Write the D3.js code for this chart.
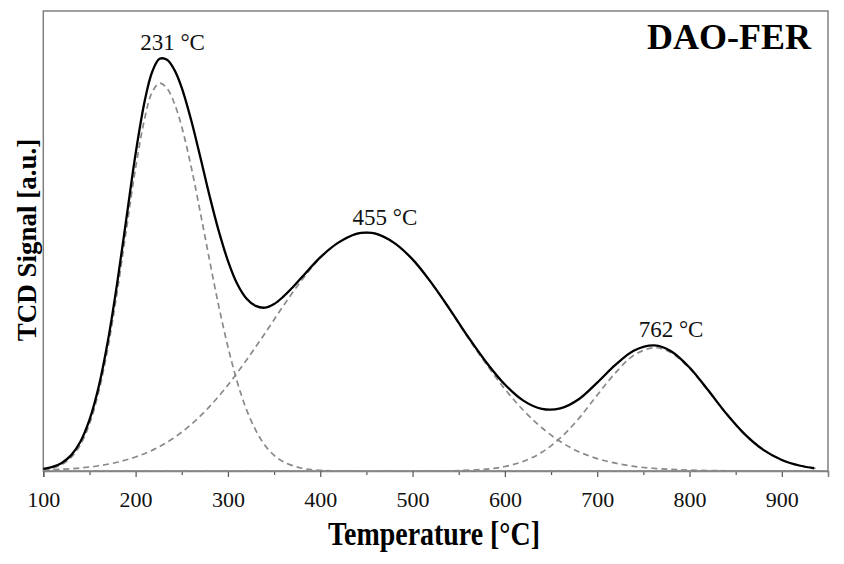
<!DOCTYPE html>
<html>
<head>
<meta charset="utf-8">
<script src="https://cdn.jsdelivr.net/npm/d3@7"></script>
<style>
  html, body { margin: 0; padding: 0; background: #fff; }
  svg { display: block; }
</style>
</head>
<body>
<svg id="chart" width="844" height="564"></svg>
<script>
// ---- data ----
const totalT = [100,110,120,130,140,150,160,170,180,190,200,210,218,226,234,242,250,260,270,280,290,300,310,320,330,340,350,360,370,380,400,420,440,450,460,480,500,520,540,560,580,600,620,640,660,680,700,720,740,762,780,800,820,840,860,880,900,920,935];
const totalV = [0.45,0.9,1.76,3.4,6.3,11.1,18.3,28.3,40.8,54.9,69.0,80.6,86.8,89.6,89.4,87.2,83.3,76.4,68.3,59.9,52.2,45.7,40.7,37.5,35.9,35.5,36.3,37.9,39.9,42.1,46.45,49.7,51.6,51.8,51.6,49.6,46.0,41.0,35.25,29.2,23.6,18.8,15.3,13.5,13.6,15.6,19.2,23.1,26.2,27.3,26.05,22.5,17.6,12.45,7.97,4.6,2.4,1.14,0.6];

const peak1T = [100,110,120,130,140,150,160,170,180,190,200,210,218,226,234,242,250,260,270,280,290,300,310,320,330,340,350,360,380,400,420,460,940];
const peak1V = [0.25,0.62,1.39,2.91,5.66,10.2,17.2,26.8,38.9,52.5,65.9,76.8,82.4,84.3,83.2,79.9,74.8,66.3,56.3,45.9,35.9,27.0,19.4,13.4,8.9,5.6,3.4,2.0,0.6,0.15,0.03,0,0];

const peak2T = [100,120,140,160,180,200,220,240,260,280,300,320,340,360,380,400,420,440,450,460,480,500,520,540,560,580,600,620,640,660,680,700,720,740,760,780,800,840,880,940];
const peak2V = [0.2,0.37,0.66,1.14,1.9,3.05,4.7,7.0,10.1,14.0,18.7,24.1,29.9,35.9,41.5,46.3,49.7,51.6,51.8,51.6,49.6,46.0,41.0,35.2,29.0,23.2,17.8,13.2,9.4,6.4,4.2,2.7,1.7,1.0,0.6,0.35,0.2,0.05,0.01,0];

const peak3T = [100,500,530,550,580,600,620,640,660,680,700,720,740,762,780,800,820,840,860,880,900,920,940];
const peak3V = [0,0,0.02,0.09,0.4,0.97,2.09,4.07,7.18,11.4,16.5,21.4,25.2,26.8,25.7,22.3,17.5,12.4,7.95,4.6,2.4,1.14,0.49];

const xTicks = [100,200,300,400,500,600,700,800,900];
const xMinorTicks = [150,250,350,450,550,650,750,850,950];

const labelTexts = ["231 °C","455 °C","762 °C"];
const labelT = [240,470,780];
const labelV = [91.5,53.5,29.1];

const titleText = "DAO-FER";
const xTitle = "Temperature [°C]";
const yTitle = "TCD Signal [a.u.]";

// ---- layout ----
const svg = d3.select("#chart");
const mLeft = 43.3, mRight = 828, mTop = 11, mBottom = 471;
const x = d3.scaleLinear().domain([100, 950]).range([mLeft, mRight]);
const y = d3.scaleLinear().domain([0, 100]).range([mBottom, mTop]);
const serif = "'Liberation Serif','Times New Roman',Times,serif";
const frameColor = "#808080";

// frame
svg.append("rect").attr("x", mLeft).attr("y", mTop)
  .attr("width", mRight - mLeft).attr("height", mBottom - mTop)
  .attr("fill", "none").attr("stroke", frameColor).attr("stroke-width", 1.5);

// x axis
const gx = svg.append("g").attr("transform", `translate(0,${mBottom})`);
gx.append("g").call(d3.axisBottom(x).tickValues(xMinorTicks).tickSize(4).tickFormat(""))
  .call(g => g.select(".domain").remove());
gx.append("g").call(d3.axisBottom(x).tickValues(xTicks).tickSize(6).tickPadding(14).tickFormat(d3.format("d")))
  .call(g => g.select(".domain").attr("stroke", frameColor).attr("stroke-width", 1.5));
gx.selectAll(".tick line").attr("stroke", "#555").attr("stroke-width", 1.2);
gx.selectAll(".tick text").attr("font-family", serif).attr("font-size", 22).attr("fill", "#111");

// lines
const line = d3.line().x(d => x(d[0])).y(d => y(d[1])).curve(d3.curveCatmullRom.alpha(0.5));
const comps = [[peak1T, peak1V],[peak2T, peak2V],[peak3T, peak3V]];
comps.forEach(([t, v]) => {
  svg.append("path").datum(t.map((d, i) => [d, v[i]]))
    .attr("d", line).attr("fill", "none")
    .attr("stroke", "#8a8a8a").attr("stroke-width", 1.7)
    .attr("stroke-dasharray", "6,4");
});
svg.append("path").datum(totalT.map((d, i) => [d, totalV[i]]))
  .attr("d", line).attr("fill", "none")
  .attr("stroke", "#000").attr("stroke-width", 2.3);

// peak labels
labelTexts.forEach((txt, i) => {
  svg.append("text").attr("x", x(labelT[i])).attr("y", y(labelV[i]))
    .attr("text-anchor", "middle").attr("font-family", serif)
    .attr("font-size", 23).attr("fill", "#111").text(txt);
});

// title
svg.append("text").attr("x", 811).attr("y", 49).attr("text-anchor", "end")
  .attr("font-family", serif).attr("font-weight", "bold").attr("font-size", 36)
  .attr("fill", "#000").text(titleText);

// axis titles
svg.append("text").attr("x", 328).attr("y", 545)
  .attr("font-family", serif).attr("font-weight", "bold").attr("font-size", 34)
  .attr("textLength", 212).attr("lengthAdjust", "spacingAndGlyphs")
  .attr("fill", "#000").text(xTitle);
svg.append("text").attr("transform", "translate(36,240) rotate(-90)")
  .attr("text-anchor", "middle")
  .attr("font-family", serif).attr("font-weight", "bold").attr("font-size", 27)
  .attr("fill", "#000").text(yTitle);
</script>
</body>
</html>
